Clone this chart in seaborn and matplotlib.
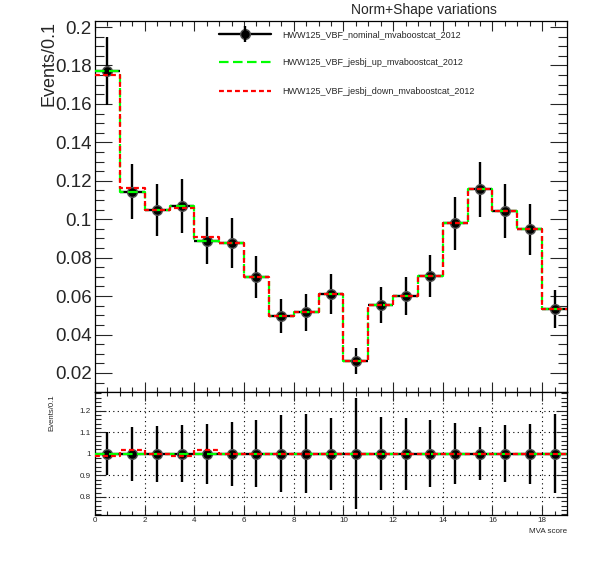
import numpy as np
import seaborn as sns
import matplotlib.pyplot as plt
from matplotlib.lines import Line2D
from matplotlib.ticker import MultipleLocator, FormatStrFormatter

# histogram binning (MVA score, 19 bins of width 1)
bin_edges = list(range(20))
bin_centers = [b + 0.5 for b in range(19)]

# nominal template and its stat. errors
nominal = [0.1771, 0.1143, 0.1048, 0.1070, 0.0888, 0.0875, 0.0701, 0.0496, 0.0516, 0.0611,
           0.0264, 0.0554, 0.0600, 0.0704, 0.0979, 0.1156, 0.1043, 0.0947, 0.0533]
nominal_err = [0.0176, 0.0143, 0.0137, 0.0140, 0.0123, 0.0130, 0.0109, 0.0089, 0.0095, 0.0102,
               0.0068, 0.0094, 0.0100, 0.0110, 0.0139, 0.0142, 0.0139, 0.0131, 0.0098]

# jes b-jet shifted templates
jesbj_up = [0.1771, 0.1143, 0.1048, 0.1070, 0.0888, 0.0875, 0.0701, 0.0496, 0.0516, 0.0611,
            0.0264, 0.0554, 0.0600, 0.0704, 0.0979, 0.1156, 0.1043, 0.0947, 0.0533]
jesbj_down = [0.1753, 0.1162, 0.1048, 0.1058, 0.0905, 0.0875, 0.0701, 0.0496, 0.0516, 0.0611,
              0.0264, 0.0554, 0.0600, 0.0704, 0.0979, 0.1156, 0.1043, 0.0947, 0.0533]

labels = ["HWW125_VBF_nominal_mvaboostcat_2012",
          "HWW125_VBF_jesbj_up_mvaboostcat_2012",
          "HWW125_VBF_jesbj_down_mvaboostcat_2012"]

sns.set_style("white")
plt.rcParams["font.family"] = ["Liberation Sans", "DejaVu Sans"]

W, H = 596, 572
fig = plt.figure(figsize=(W / 100, H / 100), dpi=100)
ax = fig.add_axes([95 / W, 1 - 392 / H, 472 / W, (392 - 20.7) / H])
rax = fig.add_axes([95 / W, 1 - 515 / H, 472 / W, (515 - 392) / H])

nom = np.array(nominal)
err = np.array(nominal_err)
up = np.array(jesbj_up)
down = np.array(jesbj_down)


def step_values(v):
    # repeat last value so the step closes at the right edge
    return list(v) + [v[-1]]


green_ls = (0, (4.3, 2.0))
red_ls = (0, (2.2, 1.4))
mkw = dict(fmt="o", color="black", ms=7, mec="#505050", mew=1, elinewidth=1.7, capsize=0)

# ---- main pad ----
ax.errorbar(bin_centers, nom, yerr=err, xerr=0.5, zorder=3, **mkw)
sns.lineplot(x=bin_edges, y=step_values(up), drawstyle="steps-post", color="#00ff00",
             linestyle=green_ls, lw=1.6, ax=ax, legend=False, zorder=4)
sns.lineplot(x=bin_edges, y=step_values(down), drawstyle="steps-post", color="#ff0000",
             linestyle=red_ls, lw=1.6, ax=ax, legend=False, zorder=5)
h_up = ax.lines[-2]
h_down = ax.lines[-1]

# legend entry for the nominal: horizontal bar + vertical bar + marker
h_nom = (Line2D([], [], color="black", lw=1.7, marker="o", ms=7, mec="#505050", mew=1),
         Line2D([], [], color="black", ls="none", marker="|", ms=11, mew=1.7))

ax.set_xlim(0, 19)
ax.set_ylim(0.0101, 0.2033)
ax.xaxis.set_major_locator(MultipleLocator(2))
ax.xaxis.set_minor_locator(MultipleLocator(0.5))
ax.yaxis.set_major_locator(MultipleLocator(0.02))
ax.yaxis.set_minor_locator(MultipleLocator(0.005))
ax.yaxis.set_major_formatter(FormatStrFormatter("%g"))
ax.tick_params(axis="x", which="both", direction="in", top=True, bottom=True,
               labelbottom=False, width=0.8)
ax.tick_params(axis="x", which="major", length=7.2)
ax.tick_params(axis="x", which="minor", length=3.6)
ax.tick_params(axis="y", which="both", direction="in", left=True, right=True,
               labelsize=13.5, pad=2.4, width=0.8)
ax.tick_params(axis="y", which="major", length=12.2)
ax.tick_params(axis="y", which="minor", length=6.5)
ax.set_xlabel("")
ax.set_ylabel("Events/0.1", fontsize=13, loc="top")
ax.yaxis.set_label_coords(-0.079, 1.0)

ax.legend([h_nom, h_up, h_down], labels, loc="upper left",
          bbox_to_anchor=(219 / W, 1 - 30 / H), bbox_transform=fig.transFigure,
          frameon=False, fontsize=6.5, handlelength=5.8, handletextpad=1.2,
          labelspacing=2.15, borderpad=0, borderaxespad=0)

fig.text(424 / W, 1 - 10 / H, "Norm+Shape variations", ha="center", va="center", fontsize=10)

# ---- ratio pad ----
ones = nom / nom
rel_err = err / nom
rax.errorbar(bin_centers, ones, yerr=rel_err, xerr=0.5, zorder=3, **mkw)
sns.lineplot(x=bin_edges, y=step_values(up / nom), drawstyle="steps-post", color="#00ff00",
             linestyle=green_ls, lw=1.6, ax=rax, legend=False, zorder=4)
sns.lineplot(x=bin_edges, y=step_values(down / nom), drawstyle="steps-post", color="#ff0000",
             linestyle=red_ls, lw=1.6, ax=rax, legend=False, zorder=5)

rax.set_xlim(0, 19)
rax.set_ylim(0.716, 1.286)
rax.xaxis.set_major_locator(MultipleLocator(2))
rax.xaxis.set_minor_locator(MultipleLocator(0.5))
rax.yaxis.set_major_locator(MultipleLocator(0.1))
rax.yaxis.set_minor_locator(MultipleLocator(0.02))
rax.yaxis.set_major_formatter(FormatStrFormatter("%g"))
rax.grid(True, which="major", color="black", linestyle=(0, (1, 3)), lw=0.8)
rax.tick_params(axis="x", which="both", direction="in", top=True, bottom=True,
                labelsize=5.8, pad=1.5, width=0.8)
rax.tick_params(axis="x", which="major", length=6.5)
rax.tick_params(axis="x", which="minor", length=3.2)
rax.tick_params(axis="y", which="both", direction="in", left=True, right=True,
                labelsize=5.8, pad=3, width=0.8)
rax.tick_params(axis="y", which="major", length=8)
rax.tick_params(axis="y", which="minor", length=4.3)
rax.set_xlabel("MVA score", fontsize=5.8, loc="right", labelpad=3)
rax.set_ylabel("Events/0.1", fontsize=5.6, loc="top")
rax.yaxis.set_label_coords(-0.085, 0.98)

for a in (ax, rax):
    for s in a.spines.values():
        s.set_linewidth(0.9)
        s.set_color("black")

fig.savefig("out.png", dpi=100)
